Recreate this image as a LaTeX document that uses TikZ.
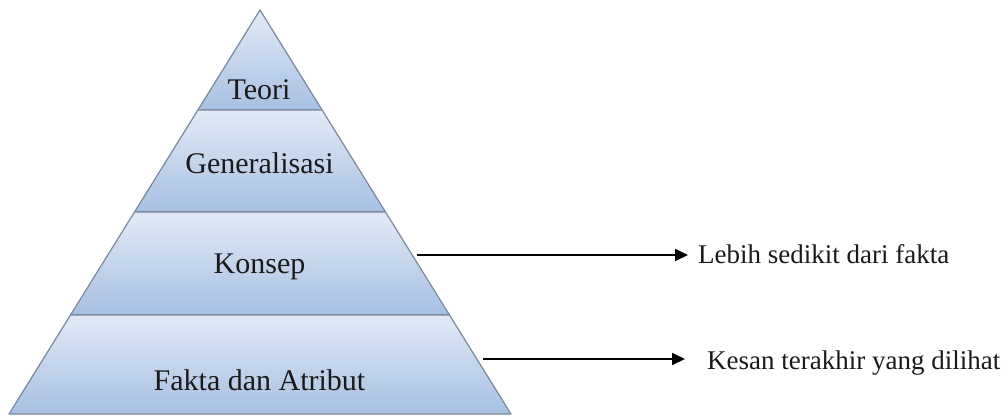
\documentclass[tikz,border=0pt]{standalone}
\usepackage{fontspec}
\setmainfont{Liberation Serif}
\usetikzlibrary{arrows.meta}
\definecolor{laytop}{HTML}{E2EAF6}
\definecolor{laybot}{HTML}{A7C0E2}
\definecolor{layedge}{HTML}{7A889C}
\definecolor{txt}{HTML}{1A1A1A}
\tikzset{
  layer/.style={top color=laytop, bottom color=laybot, draw=layedge, line width=1.2pt, line join=round},
  laylabel/.style={anchor=base, inner sep=0pt, text=txt, font=\rmfamily\fontsize{30}{36}\selectfont},
  sidelabel/.style={anchor=base west, inner sep=0pt, text=txt, font=\rmfamily\fontsize{27}{32}\selectfont},
  pointer/.style={line width=1.8pt, -{Triangle[length=13pt,width=12pt]}}
}
\begin{document}
\begin{tikzpicture}[x=1pt,y=-1pt]
\useasboundingbox (0,0) rectangle (1006,417);
% layers
\path[layer] (260,10) -- (322.1,110) -- (197.9,110) -- cycle;
\path[layer] (197.9,110) -- (322.1,110) -- (385.5,212) -- (134.5,212) -- cycle;
\path[layer] (134.5,212) -- (385.5,212) -- (449.5,315) -- (70.5,315) -- cycle;
\path[layer] (70.5,315) -- (449.5,315) -- (511,414) -- (9,414) -- cycle;
% labels
\node[laylabel] (teori) at (259,100) {Teori};
\node[laylabel] (gen) at (259.5,173) {Generalisasi};
\node[laylabel] (konsep) at (259.5,273) {Konsep};
\node[laylabel] (fakta) at (259.5,390) {Fakta dan Atribut};
% side labels
\node[sidelabel] (lebih) at (698,263) {Lebih sedikit dari fakta};
\node[sidelabel] (kesan) at (707,369) {Kesan terakhir yang dilihat};
% connectors
\coordinate (konsepR) at (417,255);
\coordinate (faktaR) at (483,359);
\coordinate (lebihL) at (688,255);
\coordinate (kesanL) at (685,359);
\draw[pointer] (konsepR) -- (lebihL);
\draw[pointer] (faktaR) -- (kesanL);
\end{tikzpicture}
\end{document}
